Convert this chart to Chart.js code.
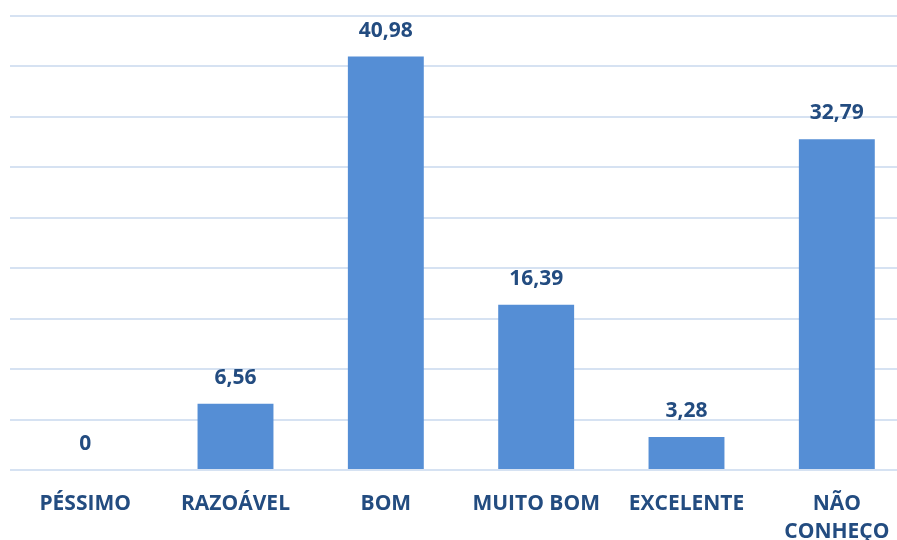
<!DOCTYPE html>
<html>
<head>
<meta charset="utf-8">
<script src="https://cdn.jsdelivr.net/npm/chart.js@4/dist/chart.umd.min.js"></script>
<style>
  html, body { margin: 0; padding: 0; background: #fff; overflow: hidden; }
  #wrap { width: 912px; height: 540px; }
</style>
</head>
<body>
<div id="wrap"><canvas id="chart"></canvas></div>
<script>
// chart data
const categories = ['PÉSSIMO', 'RAZOÁVEL', 'BOM', 'MUITO BOM', 'EXCELENTE', ['NÃO', 'CONHEÇO']];
const values = [0, 6.56, 40.98, 16.39, 3.28, 32.79];
const yMax = 45;
const yStep = 5;

const TEXT_COLOR = '#234C80';
const FONT = '"Open Sans", "Liberation Sans", sans-serif';

// draws the value above each bar
const valueLabels = {
  id: 'valueLabels',
  afterDatasetsDraw(chart) {
    const ctx = chart.ctx;
    const meta = chart.getDatasetMeta(0);
    ctx.save();
    ctx.fillStyle = TEXT_COLOR;
    ctx.font = 'bold 21px ' + FONT;
    ctx.textAlign = 'center';
    ctx.textBaseline = 'middle';
    meta.data.forEach((bar, i) => {
      const txt = String(values[i]).replace('.', ',');
      ctx.fillText(txt, bar.x, bar.y - 26);
    });
    ctx.restore();
  }
};

new Chart(document.getElementById('chart'), {
  type: 'bar',
  data: {
    labels: categories,
    datasets: [{
      data: values,
      backgroundColor: '#558ED5',
      borderWidth: 0,
      categoryPercentage: 1,
      barPercentage: 0.505,
    }],
  },
  options: {
    animation: false,
    responsive: true,
    maintainAspectRatio: false,
    layout: { padding: { left: 10, top: 16, right: 0, bottom: 0 } },
    plugins: {
      legend: { display: false },
      tooltip: { enabled: false },
    },
    scales: {
      x: {
        grid: { display: false },
        border: { display: false },
        ticks: {
          color: TEXT_COLOR,
          font: { family: FONT, size: 21, weight: 'bold', lineHeight: 1.33 },
          padding: 12,
          maxRotation: 0,
          autoSkip: false,
        },
        afterFit(scale) { scale.height = 70; },
      },
      y: {
        min: 0,
        max: yMax,
        ticks: { display: false, stepSize: yStep },
        border: { display: false },
        grid: { color: '#D6E2F2', lineWidth: 2, drawTicks: false },
        afterFit(scale) { scale.width = 0; },
      },
    },
  },
  plugins: [valueLabels],
});
</script>
</body>
</html>
